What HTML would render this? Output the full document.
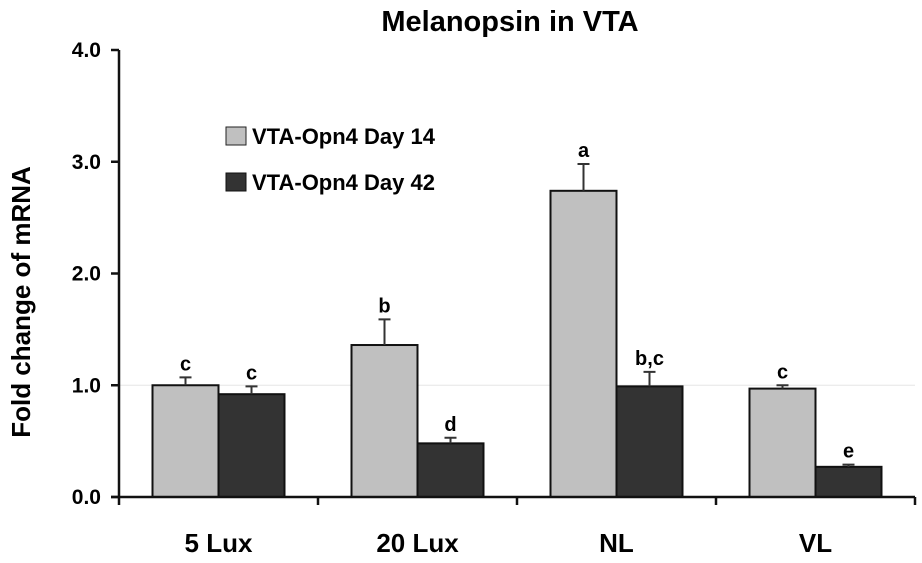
<!DOCTYPE html>
<html><head><meta charset="utf-8"><style>
body{margin:0;background:#fff;}
svg text{font-family:"Liberation Sans",sans-serif;font-weight:bold;}
</style></head><body>
<svg id="chart" width="922" height="558">
<text x="510" y="31" font-size="29" text-anchor="middle">Melanopsin  in VTA</text>
<text transform="translate(30,302) rotate(-90)" font-size="26" text-anchor="middle">Fold change of mRNA</text>
<g id="plot"></g>
<g>
<rect x="226" y="127" width="20" height="18" fill="#c0c0c0" stroke="#222"/>
<text x="252" y="144" font-size="22">VTA-Opn4 Day 14</text>
<rect x="226" y="173" width="20" height="18" fill="#333" stroke="#111"/>
<text x="252" y="190" font-size="22">VTA-Opn4 Day 42</text>
</g>
</svg>
<script>
const categories=["5 Lux","20 Lux","NL","VL"];
const day14=[1.00,1.36,2.74,0.97];
const day14Err=[0.07,0.23,0.24,0.03];
const day42=[0.92,0.48,0.99,0.27];
const day42Err=[0.07,0.05,0.13,0.02];
const day14Labels=["c","b","a","c"];
const day42Labels=["c","d","b,c","e"];
const yTicks=[0,1,2,3,4];
const yTickLabels=["0.0","1.0","2.0","3.0","4.0"];

const NS="http://www.w3.org/2000/svg";
const g=document.getElementById('plot');
const x0=119,x1=915,yB=497,yT=50,yMax=4;
const bw=(x1-x0)/categories.length;
const y=v=>yB-(v/yMax)*(yB-yT);
const xc=i=>x0+bw*(i+0.5);
function mk(t,a,p){const e=document.createElementNS(NS,t);for(const k in a)e.setAttribute(k,a[k]);(p||g).appendChild(e);return e;}
let gl=mk('line',{x1:x0,x2:x1,y1:y(1),y2:y(1),stroke:'#e6e6e6'});


const barW=66;
function bar(i,v,err,lab,fill,off,nm){
  const xl=xc(i)+off;
  const r=mk('rect',{x:xl,y:y(v),width:barW,height:yB-y(v),fill:fill,stroke:'#111','stroke-width':2});
  
  
  const cx=xl+barW/2;
  const e=mk('path',{d:`M${cx},${y(v)}V${y(v+err)}M${cx-6},${y(v+err)}H${cx+6}`,stroke:'#333','stroke-width':2,fill:'none'});
  
  
  const t=mk('text',{x:cx,y:y(v+err)-7,'font-size':20,'text-anchor':'middle'});
  t.textContent=lab;
  
  
}
categories.forEach((c,i)=>{
  bar(i,day14[i],day14Err[i],day14Labels[i],'#c0c0c0',-barW,'bar-day14');
  bar(i,day42[i],day42Err[i],day42Labels[i],'#333',0,'bar-day42');
  const t=mk('text',{x:xc(i),y:552,'font-size':26,'text-anchor':'middle'});
  t.textContent=c;
  
  
});
let ax=mk('path',{d:`M${x0},${yT}V${yB+8}M${x0-8},${yB}H${x1}`,stroke:'#111','stroke-width':2.5,fill:'none'});


for(let i=1;i<=categories.length;i++){
  let tk=mk('line',{x1:x0+bw*i,x2:x0+bw*i,y1:yB,y2:yB+8,stroke:'#111','stroke-width':2.5});
  
  
}
yTicks.forEach((v,i)=>{
  let tk=mk('line',{x1:x0-8,x2:x0,y1:y(v),y2:y(v),stroke:'#111','stroke-width':2.5});
  
  
  const t=mk('text',{x:x0-18,y:y(v)+7,'font-size':21,'text-anchor':'end'});
  t.textContent=yTickLabels[i];
  
  
});
</script>
</body></html>
